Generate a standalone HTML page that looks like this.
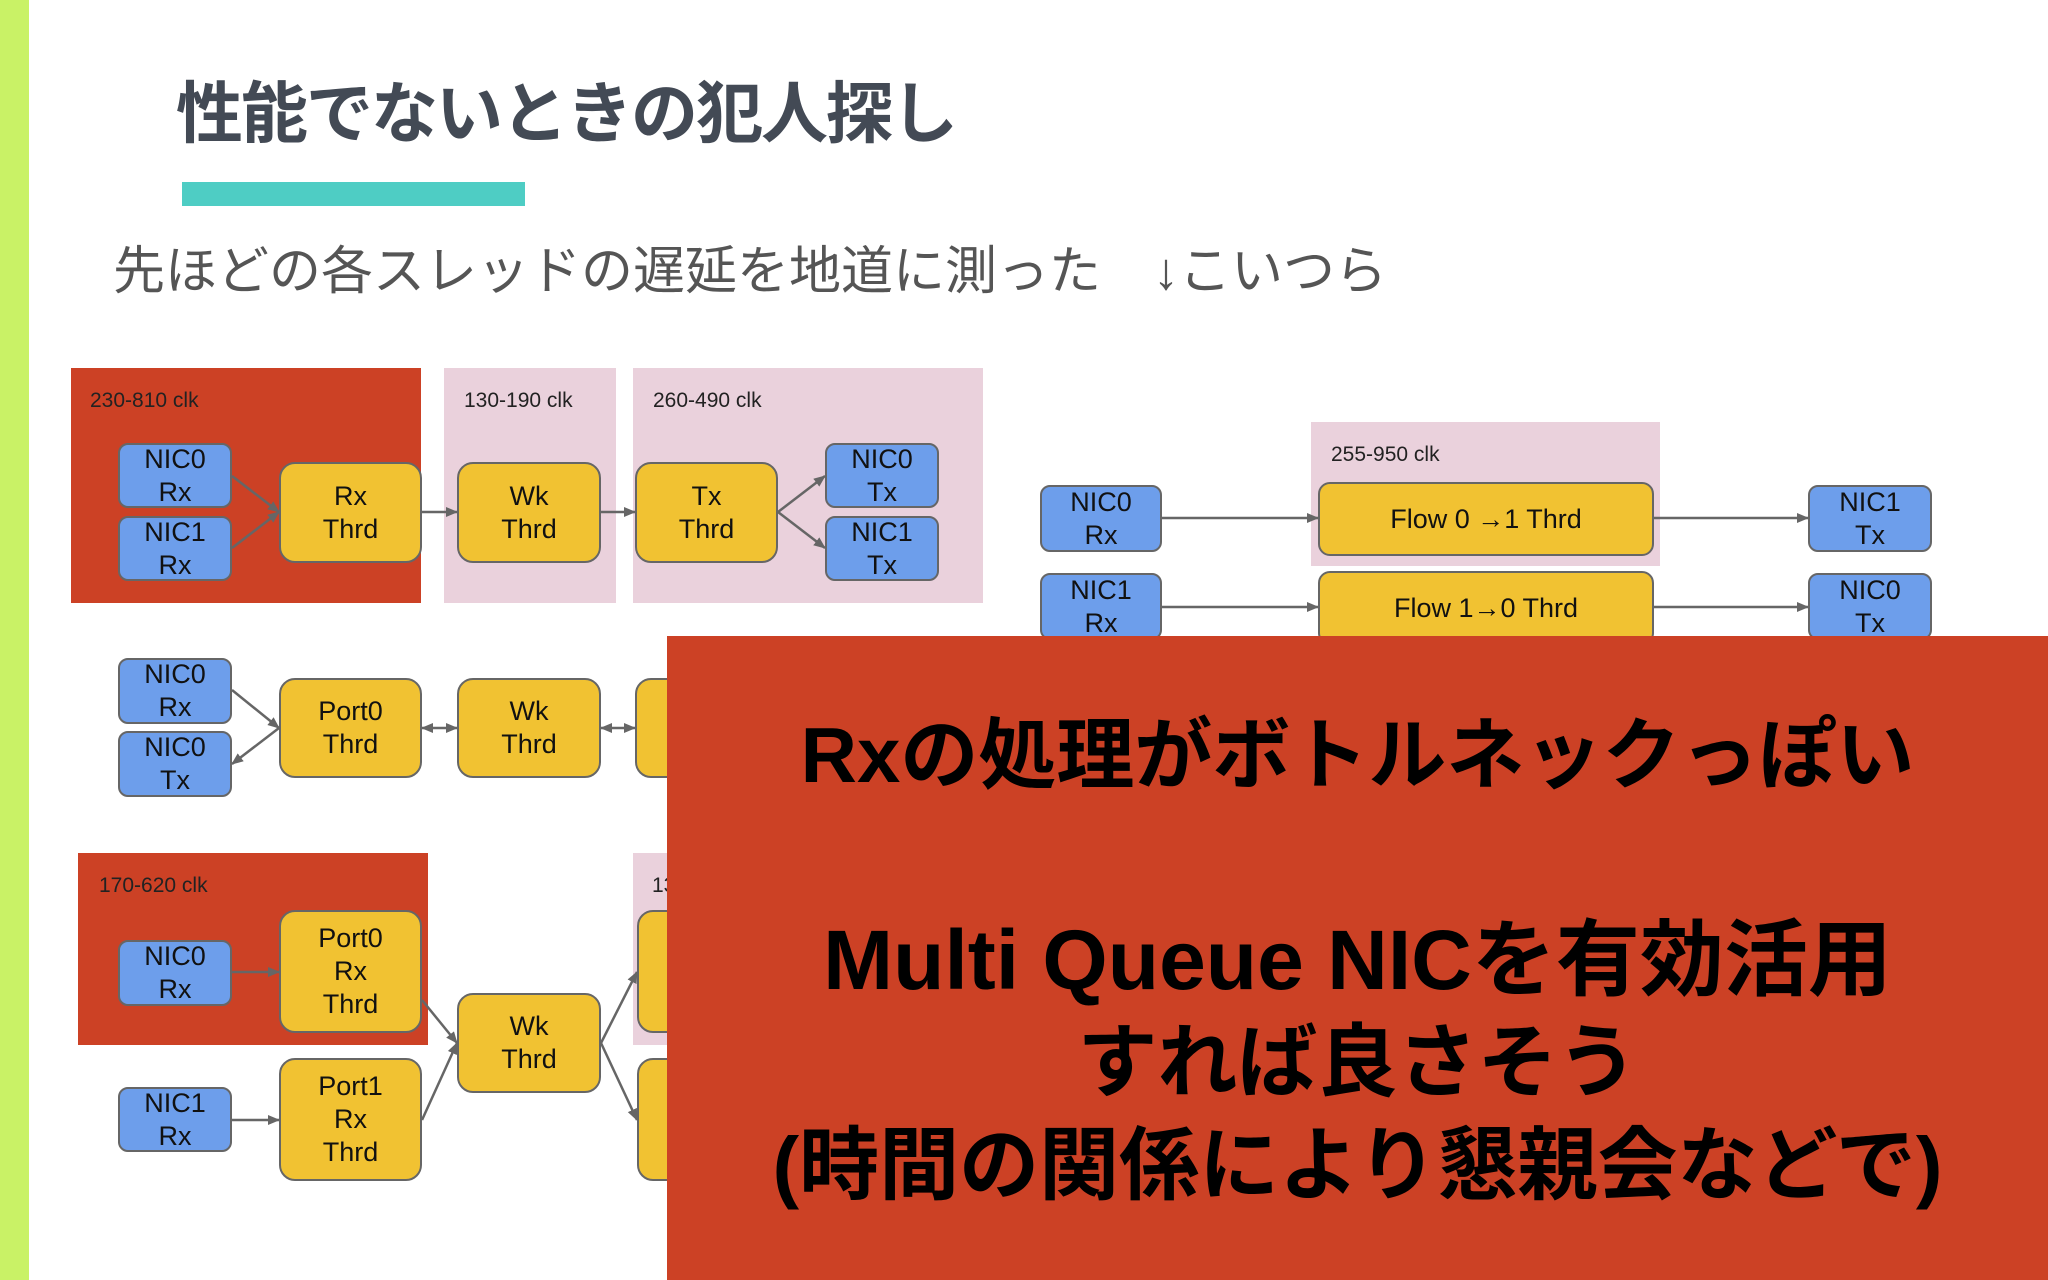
<!DOCTYPE html>
<html><head><meta charset="utf-8"><style>
body{margin:0;width:2048px;height:1280px;position:relative;overflow:hidden;background:#fff;font-family:"Liberation Sans","Noto Sans CJK JP",sans-serif}
.a{position:absolute}
.n{position:absolute;box-sizing:border-box;border:2px solid #666;display:flex;align-items:center;justify-content:center;text-align:center;font-size:27px;line-height:33px;color:#111}
.b{background:#6d9eeb;border-radius:10px}
.y{background:#f1c232;border-radius:16px}
.lbl{position:absolute;font-size:21px;color:#222}
</style></head><body>
<div class="a" style="left:0;top:0;width:29px;height:1280px;background:#c9f266"></div>
<div class="a" style="left:176px;top:60px;font-size:67px;font-weight:bold;color:#434a55;letter-spacing:-2px">性能でないときの犯人探し</div>
<div class="a" style="left:182px;top:182px;width:343px;height:24px;background:#4ecdc4"></div>
<div class="a" style="left:113px;top:229px;font-size:52px;color:#555">先ほどの各スレッドの遅延を地道に測った　↓こいつら</div>

<div class="a" style="left:71px;top:368px;width:350px;height:235px;background:#cc4125"></div>
<div class="a" style="left:444px;top:368px;width:172px;height:235px;background:#ead1dc"></div>
<div class="a" style="left:633px;top:368px;width:350px;height:235px;background:#ead1dc"></div>
<div class="lbl" style="left:90px;top:389px">230-810 clk</div>
<div class="lbl" style="left:464px;top:389px">130-190 clk</div>
<div class="lbl" style="left:653px;top:389px">260-490 clk</div>

<div class="a" style="left:1311px;top:422px;width:349px;height:144px;background:#ead1dc"></div>
<div class="lbl" style="left:1331px;top:443px">255-950 clk</div>

<div class="a" style="left:78px;top:853px;width:350px;height:192px;background:#cc4125"></div>
<div class="a" style="left:633px;top:853px;width:100px;height:192px;background:#ead1dc"></div>
<div class="lbl" style="left:99px;top:874px">170-620 clk</div>
<div class="lbl" style="left:652px;top:874px">13</div>

<svg class="a" style="left:0;top:0" width="2048" height="1280">
<defs><marker id="m" markerWidth="12" markerHeight="12" refX="11" refY="6" orient="auto" markerUnits="userSpaceOnUse"><path d="M0,1L12,6L0,11z" fill="#666"/></marker>
<marker id="s" markerWidth="12" markerHeight="12" refX="1" refY="6" orient="auto" markerUnits="userSpaceOnUse"><path d="M12,1L0,6L12,11z" fill="#666"/></marker></defs>
<g stroke="#666" stroke-width="2.5" fill="none" marker-end="url(#m)">
<path d="M232,476L279,512"/><path d="M232,548L279,512"/>
<path d="M422,512L457,512"/><path d="M601,512L635,512"/>
<path d="M778,512L825,476"/><path d="M778,512L825,548"/>
<path d="M232,690L279,728"/><path d="M279,728L232,764"/>
<path d="M422,728L457,728" marker-start="url(#s)"/><path d="M601,728L635,728" marker-start="url(#s)"/>
<path d="M1162,518L1318,518"/><path d="M1654,518L1808,518"/>
<path d="M1162,607L1318,607"/><path d="M1654,607L1808,607"/>
<path d="M232,972L279,972"/><path d="M232,1120L279,1120"/>
<path d="M422,1000L457,1043"/><path d="M422,1120L457,1043"/>
<path d="M601,1043L637,972"/><path d="M601,1043L637,1120"/>
</g></svg>

<div class="n b" style="left:118px;top:443px;width:114px;height:65px">NIC0<br>Rx</div>
<div class="n b" style="left:118px;top:516px;width:114px;height:65px">NIC1<br>Rx</div>
<div class="n y" style="left:279px;top:462px;width:143px;height:101px">Rx<br>Thrd</div>
<div class="n y" style="left:457px;top:462px;width:144px;height:101px">Wk<br>Thrd</div>
<div class="n y" style="left:635px;top:462px;width:143px;height:101px">Tx<br>Thrd</div>
<div class="n b" style="left:825px;top:443px;width:114px;height:65px">NIC0<br>Tx</div>
<div class="n b" style="left:825px;top:516px;width:114px;height:65px">NIC1<br>Tx</div>

<div class="n b" style="left:118px;top:658px;width:114px;height:66px">NIC0<br>Rx</div>
<div class="n b" style="left:118px;top:731px;width:114px;height:66px">NIC0<br>Tx</div>
<div class="n y" style="left:279px;top:678px;width:143px;height:100px">Port0<br>Thrd</div>
<div class="n y" style="left:457px;top:678px;width:144px;height:100px">Wk<br>Thrd</div>
<div class="n y" style="left:635px;top:678px;width:143px;height:100px"></div>

<div class="n b" style="left:1040px;top:485px;width:122px;height:67px">NIC0<br>Rx</div>
<div class="n b" style="left:1040px;top:573px;width:122px;height:67px">NIC1<br>Rx</div>
<div class="n y" style="left:1318px;top:482px;width:336px;height:74px;border-radius:12px">Flow 0 →1 Thrd</div>
<div class="n y" style="left:1318px;top:571px;width:336px;height:74px;border-radius:12px">Flow 1→0 Thrd</div>
<div class="n b" style="left:1808px;top:485px;width:124px;height:67px">NIC1<br>Tx</div>
<div class="n b" style="left:1808px;top:573px;width:124px;height:67px">NIC0<br>Tx</div>

<div class="n b" style="left:118px;top:940px;width:114px;height:66px">NIC0<br>Rx</div>
<div class="n b" style="left:118px;top:1087px;width:114px;height:65px">NIC1<br>Rx</div>
<div class="n y" style="left:279px;top:910px;width:143px;height:123px">Port0<br>Rx<br>Thrd</div>
<div class="n y" style="left:279px;top:1058px;width:143px;height:123px">Port1<br>Rx<br>Thrd</div>
<div class="n y" style="left:457px;top:993px;width:144px;height:100px">Wk<br>Thrd</div>
<div class="n y" style="left:637px;top:910px;width:100px;height:123px"></div>
<div class="n y" style="left:637px;top:1058px;width:100px;height:123px"></div>

<div class="a" style="left:667px;top:636px;width:1381px;height:644px;background:#cc4125"></div>
<div class="a" style="left:667px;top:636px;width:1381px;text-align:center;font-weight:bold;font-size:78px;color:#000;line-height:104px">
<div style="position:absolute;left:0;right:0;top:67px">Rxの処理がボトルネックっぽい</div>
<div style="position:absolute;left:0;right:0;top:272px;font-size:84px">Multi Queue NICを有効活用</div>
<div style="position:absolute;left:0;right:0;top:375px;font-size:80px">すれば良さそう</div>
<div style="position:absolute;left:0;right:0;top:478px;font-size:80px">(時間の関係により懇親会などで)</div>
</div>
</body></html>
